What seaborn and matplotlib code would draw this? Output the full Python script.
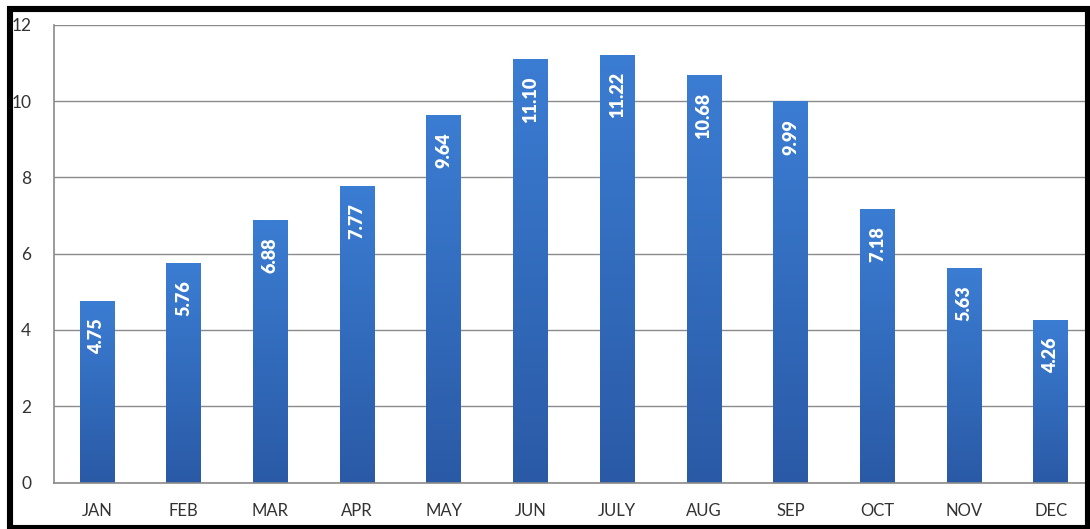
import numpy as np
import pandas as pd
import seaborn as sns
import matplotlib
matplotlib.use("Agg")
import matplotlib.pyplot as plt
from matplotlib.patches import Rectangle
from matplotlib.colors import LinearSegmentedColormap

# Monthly values
months = ["JAN", "FEB", "MAR", "APR", "MAY", "JUN",
          "JULY", "AUG", "SEP", "OCT", "NOV", "DEC"]
values = [4.75, 5.76, 6.88, 7.77, 9.64, 11.10,
          11.22, 10.68, 9.99, 7.18, 5.63, 4.26]
y_ticks = [0, 2, 4, 6, 8, 10, 12]

df = pd.DataFrame({"month": months, "value": values})

sns.set_theme(style="white")
plt.rcParams["font.family"] = ["Lato", "DejaVu Sans"]

W, H = 1090, 529
fig = plt.figure(figsize=(W / 100, H / 100), dpi=100)
fig.patch.set_facecolor("white")

# plot area in pixel terms
left_px, right_px = 53.6, 53.6 + 12 * 86.7
top_px, bottom_px = 24.8, 482.6
ax = fig.add_axes([left_px / W, 1 - bottom_px / H,
                   (right_px - left_px) / W, (bottom_px - top_px) / H])

sns.barplot(data=df, x="month", y="value", color="#2f6cc0",
            width=0.40, saturation=1, ax=ax, zorder=2)

ax.set_yticks(y_ticks)
ax.set_yticklabels([str(t) for t in y_ticks])
ax.set_xlabel("")
ax.set_ylabel("")

# vertical gradient fill for each bar
grad_cmap = LinearSegmentedColormap.from_list("bar", ["#2a5aa6", "#3b7dd3"])
grad = np.linspace(0, 1, 256).reshape(-1, 1)
for p in ax.patches:
    x0, y0 = p.get_x(), p.get_y()
    w, h = p.get_width(), p.get_height()
    im = ax.imshow(grad, cmap=grad_cmap, origin="lower", aspect="auto",
                   extent=[x0, x0 + w, y0, y0 + h], zorder=2.1)
    im.set_clip_path(p)
    p.set_facecolor("none")
    p.set_edgecolor("none")
ax.set_xlim(-0.5, len(months) - 0.5)
ax.set_ylim(0, 12)

# value labels inside the bars
for i, v in enumerate(values):
    ax.annotate(f"{v:.2f}", xy=(i, v), xytext=(0, -12.5),
                textcoords="offset points", rotation=90,
                ha="center", va="top", color="white",
                fontsize=13, fontweight="heavy", zorder=3)

# grid and spines
ax.yaxis.grid(True, color="#8a8a8a", linewidth=1.0, zorder=0)
ax.xaxis.grid(False)
ax.set_axisbelow(True)
for s in ["top", "right"]:
    ax.spines[s].set_visible(False)
for s in ["left", "bottom"]:
    ax.spines[s].set_color("#8a8a8a")
    ax.spines[s].set_linewidth(1.2)

ax.tick_params(axis="y", which="major", direction="out", length=6,
               width=1, color="#8a8a8a", labelsize=12.5,
               labelcolor="#333333", pad=10)
ax.set_xticks(np.arange(-0.5, len(months), 1.0), minor=True)
ax.tick_params(axis="x", which="major", length=0, labelsize=12,
               labelcolor="#333333", pad=15)
ax.tick_params(axis="x", which="minor", direction="out", length=5,
               width=1, color="#8a8a8a")

# black frame around the figure
fig.patches.append(Rectangle((10 / W, 1 - 527.5 / H), 1078 / W, 518.5 / H,
                             transform=fig.transFigure, fill=False,
                             edgecolor="black", linewidth=4.4, zorder=10))

fig.savefig("out.png", dpi=100, facecolor="white")
